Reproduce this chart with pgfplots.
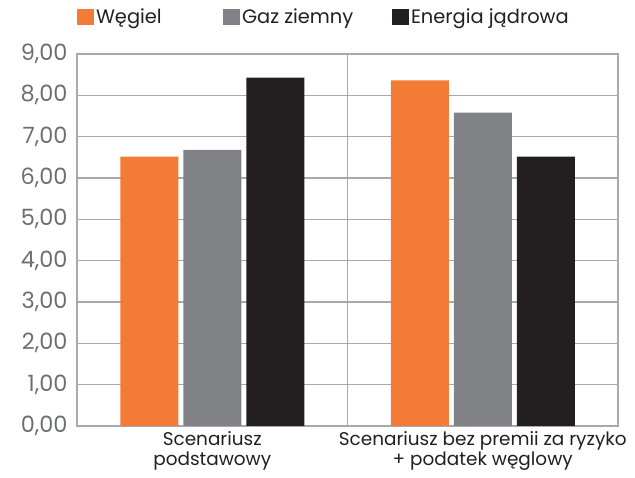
\documentclass[border=0pt]{standalone}
\usepackage{fontspec}
\setmainfont{Poppins}
\usepackage{pgfplots}
\pgfplotsset{compat=1.18}
\definecolor{cOr}{HTML}{F27B35}
\definecolor{cGy}{HTML}{818285}
\definecolor{cBk}{HTML}{231F20}
\definecolor{cGrid}{HTML}{A7A9AC}
\definecolor{cTick}{HTML}{6D6E71}
\begin{document}
\begin{tikzpicture}[x=1bp,y=1bp]
\path[use as bounding box] (0,0) rectangle (635,478);
\begin{axis}[
  at={(77bp,52bp)}, anchor=south west,
  scale only axis, width=541bp, height=372bp,
  ymin=0, ymax=9, ytick={0,1,...,9},
  xmin=-0.5, xmax=1.5, xtick={0,1},
  xticklabels={{Scenariusz\\podstawowy},{Scenariusz bez premii za ryzyko\\+ podatek węglowy}},
  xticklabel style={align=center, font=\fontsize{18.5}{20.5}\selectfont, text=cBk, yshift=-2bp},
  /pgf/number format/assume math mode=true,
  yticklabel style={font=\fontsize{22.5}{23}\selectfont, text=cTick, xshift=-6bp,
    /pgf/number format/.cd, fixed, fixed zerofill, precision=2, use comma},
  major tick length=0pt,
  axis line style={draw=cGrid, line width=1.2bp},
  ymajorgrids, major grid style={draw=cGrid, line width=1.2bp},
  extra x ticks={0.5}, extra x tick labels={},
  extra x tick style={grid=major, major grid style={draw=cGrid, line width=1.2bp}},
  ybar=5bp, bar width=58bp,
  legend style={draw=none, fill=none, inner sep=0pt, outer sep=0pt,
    at={(0.0,1.099)}, anchor=west, legend columns=-1,
    font=\fontsize{19.5}{20}\selectfont, text=cBk,
    nodes={inner sep=2bp},
    /tikz/every even column/.append style={column sep=0bp}},
  legend image code/.code={\fill[#1] (0bp,-8bp) rectangle (17bp,8bp);},
]
\addplot[fill=cOr, draw=none] coordinates {(0,6.52) (1,8.36)};
\addplot[fill=cGy, draw=none] coordinates {(0,6.68) (1,7.58)};
\addplot[fill=cBk, draw=none] coordinates {(0,8.43) (1,6.52)};
\legend{\makebox[125bp][l]{Węgiel}, \makebox[148bp][l]{Gaz ziemny}, Energia jądrowa}
\end{axis}
\end{tikzpicture}
\end{document}
